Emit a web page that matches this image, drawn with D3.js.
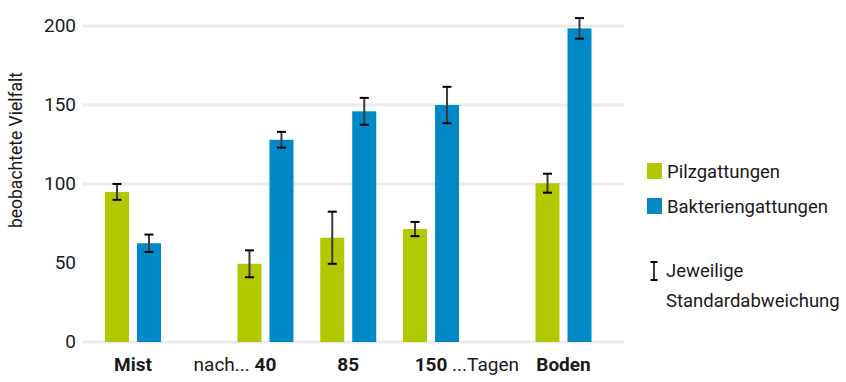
<!DOCTYPE html>
<html>
<head>
<meta charset="utf-8">
<script src="https://cdn.jsdelivr.net/npm/d3@7"></script>
<style>
  html, body { margin: 0; padding: 0; background: #fff; }
  svg { display: block; font-family: Roboto, "Noto Sans", sans-serif; }
</style>
</head>
<body>
<svg id="chart" width="846" height="382"></svg>
<script>
// Beobachtete Vielfalt: Mist, Kompost nach 40/85/150 Tagen, Boden
const categories = ["Mist", "40", "85", "150", "Boden"];
const labelPrefix = ["", "nach... ", "", "", ""];
const labelSuffix = ["", "", "", " ...Tagen", ""];

const pilzgattungen = [95, 49.5, 66, 71.5, 100.5];
const pilzSd = [5, 8.5, 16.5, 4.5, 6];
const bakteriengattungen = [62.5, 128, 146, 150, 198.5];
const bakterienSd = [5.5, 5, 8.5, 11.5, 6.5];

const yTicks = [0, 50, 100, 150, 200];
const gridLines = [0, 100, 150, 200];

const seriesNames = ["Pilzgattungen", "Bakteriengattungen"];
const seriesColors = ["#b1c900", "#0089c6"];
const errorLegend = ["Jeweilige", "Standardabweichung"];
const yTitle = "beobachtete Vielfalt";

const svg = d3.select("#chart");

// Slot index per group: extra space after the first and before the last group
const slot = categories.map((c, i) => i + (i >= 1 ? 0.6 : 0) + (i >= 4 ? 0.6 : 0));
const x = d3.scaleLinear().domain([slot[0], slot[slot.length - 1]]).range([133, 563.5]);
const y = d3.scaleLinear().domain([0, 200]).range([342, 26]);
const barW = 24, offset = 16;

// grid
svg.append("g").selectAll("line").data(gridLines).join("line")
  .attr("x1", 82).attr("x2", 624)
  .attr("y1", d => y(d)).attr("y2", d => y(d))
  .attr("stroke", "#ebebeb").attr("stroke-width", 3);

// y tick labels
svg.append("g").selectAll("text").data(yTicks).join("text")
  .attr("x", 76).attr("y", d => y(d) - 1)
  .attr("text-anchor", "end").attr("dominant-baseline", "central")
  .attr("font-size", 19).attr("fill", "#1a1a1a")
  .text(d => d);

// y title
svg.append("text")
  .attr("transform", "translate(22,150) rotate(-90)")
  .attr("text-anchor", "middle")
  .attr("font-size", 17.5).attr("fill", "#1a1a1a")
  .text(yTitle);

const series = [
  { values: pilzgattungen, sd: pilzSd, color: seriesColors[0], dx: -offset },
  { values: bakteriengattungen, sd: bakterienSd, color: seriesColors[1], dx: offset }
];

series.forEach(s => {
  const g = svg.append("g");
  g.selectAll("rect").data(s.values).join("rect")
    .attr("x", (d, i) => x(slot[i]) + s.dx - barW / 2)
    .attr("width", barW)
    .attr("y", d => y(d))
    .attr("height", d => y(0) - y(d))
    .attr("fill", s.color);

  const eb = g.selectAll("g.err").data(s.values).join("g").attr("class", "err");
  eb.append("line")
    .attr("x1", (d, i) => x(slot[i]) + s.dx).attr("x2", (d, i) => x(slot[i]) + s.dx)
    .attr("y1", (d, i) => y(d + s.sd[i])).attr("y2", (d, i) => y(d - s.sd[i]))
    .attr("stroke", "#3a3a3a").attr("stroke-width", 2);
  [1, -1].forEach(sign => {
    eb.append("line")
      .attr("x1", (d, i) => x(slot[i]) + s.dx - 4.5).attr("x2", (d, i) => x(slot[i]) + s.dx + 4.5)
      .attr("y1", (d, i) => y(d + sign * s.sd[i])).attr("y2", (d, i) => y(d + sign * s.sd[i]))
      .attr("stroke", "#000").attr("stroke-width", 2);
  });
});

// x labels: bold part centred under the group, regular prefix/suffix beside it
const xl = svg.append("g").attr("font-size", 19).attr("fill", "#1a1a1a");
categories.forEach((c, i) => {
  const cx = x(slot[i]);
  const main = xl.append("text").attr("x", cx).attr("y", 371)
    .attr("text-anchor", "middle").attr("font-weight", "bold").text(c);
  const w = main.node().getComputedTextLength();
  if (labelPrefix[i]) {
    xl.append("text").attr("x", cx - w / 2).attr("y", 371)
      .attr("text-anchor", "end").attr("xml:space", "preserve").text(labelPrefix[i]);
  }
  if (labelSuffix[i]) {
    xl.append("text").attr("x", cx + w / 2).attr("y", 371)
      .attr("text-anchor", "start").attr("xml:space", "preserve").text(labelSuffix[i]);
  }
});

// legend
const lg = svg.append("g").attr("font-size", 18.5).attr("fill", "#1a1a1a");
seriesNames.forEach((n, i) => {
  lg.append("rect").attr("x", 647).attr("y", 163 + i * 35).attr("width", 15).attr("height", 16)
    .attr("fill", seriesColors[i]);
  lg.append("text").attr("x", 667).attr("y", 178 + i * 35).text(n);
});
lg.append("line").attr("x1", 654).attr("x2", 654).attr("y1", 262).attr("y2", 280)
  .attr("stroke", "#3a3a3a").attr("stroke-width", 2);
[262, 280].forEach(yy => lg.append("line").attr("x1", 650.5).attr("x2", 657.5)
  .attr("y1", yy).attr("y2", yy).attr("stroke", "#000").attr("stroke-width", 2));
errorLegend.forEach((t, i) => {
  lg.append("text").attr("x", 666).attr("y", 277 + i * 30).text(t);
});
</script>
</body>
</html>
